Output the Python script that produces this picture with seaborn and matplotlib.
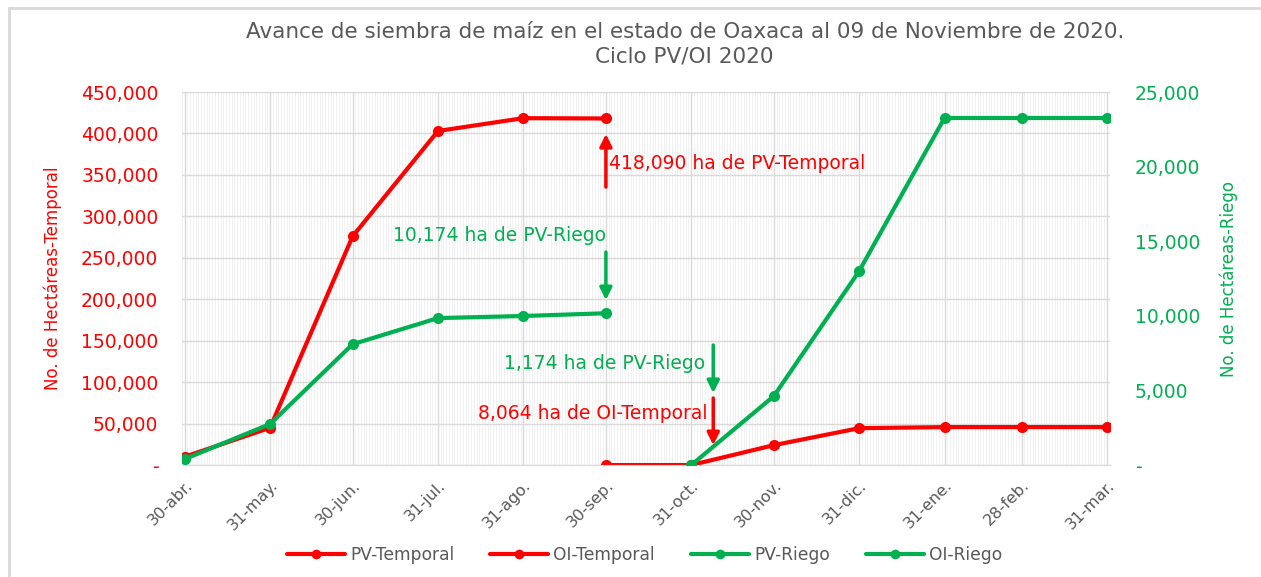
import pandas as pd
import numpy as np
import matplotlib
matplotlib.use("Agg")
import matplotlib.pyplot as plt
import matplotlib.dates as mdates
from matplotlib.ticker import FuncFormatter, MultipleLocator
from matplotlib.lines import Line2D
import seaborn as sns

# --- data ---
fechas = pd.to_datetime([
    "2020-04-30", "2020-05-31", "2020-06-30", "2020-07-31", "2020-08-31", "2020-09-30",
    "2020-10-31", "2020-11-30", "2020-12-31", "2021-01-31", "2021-02-28", "2021-03-31",
])
etiquetas = ["30-abr.", "31-may.", "30-jun.", "31-jul.", "31-ago.", "30-sep.",
             "31-oct.", "30-nov.", "31-dic.", "31-ene.", "28-feb.", "31-mar."]

pv_temporal = [10000, 45000, 276000, 403000, 418500, 418090,
               None, None, None, None, None, None]
oi_temporal = [None, None, None, None, None, 0,
               0, 24000, 44500, 45800, 45800, 45800]
pv_riego = [400, 2750, 8100, 9850, 9990, 10174,
            None, None, None, None, None, None]
oi_riego = [None, None, None, None, None, None,
            0, 4620, 13000, 23260, 23260, 23260]

ROJO = "#FF0000"
VERDE = "#00B050"
GRIS = "#595959"

df = pd.DataFrame({
    "fecha": fechas,
    "PV-Temporal": pv_temporal,
    "OI-Temporal": oi_temporal,
    "PV-Riego": pv_riego,
    "OI-Riego": oi_riego,
})

sns.set_style("white")
plt.rcParams["font.family"] = ["DejaVu Sans"]

fig = plt.figure(figsize=(12.61, 5.77), dpi=100)
ax = fig.add_axes([0.1443, 0.194, 0.7357, 0.6465])
ax2 = ax.twinx()

line_kw = dict(marker="o", markersize=8, linewidth=3, markeredgewidth=0)

for serie in ["PV-Temporal", "OI-Temporal"]:
    d = df.dropna(subset=[serie])
    sns.lineplot(data=d, x="fecha", y=serie, ax=ax, color=ROJO, **line_kw)
for serie in ["PV-Riego", "OI-Riego"]:
    d = df.dropna(subset=[serie])
    sns.lineplot(data=d, x="fecha", y=serie, ax=ax2, color=VERDE, **line_kw)

# axes limits / scales
ax.set_xlim(pd.Timestamp("2020-04-29"), pd.Timestamp("2021-04-01"))
ax.set_ylim(0, 450000)
ax2.set_ylim(0, 25000)

def miles(v, pos):
    return "-" if abs(v) < 1e-9 else f"{v:,.0f}"

ax.yaxis.set_major_locator(MultipleLocator(50000))
ax.yaxis.set_major_formatter(FuncFormatter(miles))
ax2.yaxis.set_major_locator(MultipleLocator(5000))
ax2.yaxis.set_major_formatter(FuncFormatter(miles))

ax.set_xticks(fechas)
ax.set_xticklabels(etiquetas, rotation=45, ha="right", rotation_mode="anchor",
                   color=GRIS, fontsize=11.5)
ax.xaxis.set_minor_locator(mdates.DayLocator())

ax.tick_params(axis="y", colors=ROJO, labelsize=13.5, length=0, pad=17)
ax2.tick_params(axis="y", colors=VERDE, labelsize=13.5, length=0, pad=18)
ax.tick_params(axis="x", length=5, color="#d9d9d9", pad=4)
ax.tick_params(axis="x", which="minor", length=0)

ax.set_xlabel("")
ax.set_ylabel("No. de Hectáreas-Temporal", color=ROJO, fontsize=12, labelpad=14)
ax2.set_ylabel("No. de Hectáreas-Riego", color=VERDE, fontsize=12, labelpad=14)

# grid
ax.grid(True, which="major", axis="y", color="#d9d9d9", linewidth=1)
ax.grid(True, which="major", axis="x", color="#d9d9d9", linewidth=1)
ax.grid(True, which="minor", axis="x", color="#efefef", linewidth=0.6)
ax.set_axisbelow(True)
for a in (ax, ax2):
    for s in a.spines.values():
        s.set_visible(False)
ax.spines["bottom"].set_visible(True)
ax.spines["bottom"].set_color("#d9d9d9")

# annotations (left-axis units)
def flecha(x, y0, y1, color):
    ax.annotate("", xy=(pd.Timestamp(x), y1), xytext=(pd.Timestamp(x), y0),
                arrowprops=dict(arrowstyle="-|>", color=color, lw=2.5,
                                mutation_scale=18, shrinkA=0, shrinkB=0),
                zorder=5)

fs_nota = 13.5
ax.text(pd.Timestamp("2020-10-01"), 364300, "418,090 ha de PV-Temporal",
        color=ROJO, fontsize=fs_nota, ha="left", va="center")
flecha("2020-09-30", 335400, 399300, ROJO)
ax.text(pd.Timestamp("2020-09-30"), 277500, "10,174 ha de PV-Riego",
        color=VERDE, fontsize=fs_nota, ha="right", va="center")
flecha("2020-09-30", 257000, 199000, VERDE)
ax.text(pd.Timestamp("2020-11-05"), 123000, "1,174 ha de PV-Riego",
        color=VERDE, fontsize=fs_nota, ha="right", va="center")
flecha("2020-11-08", 144800, 86900, VERDE)
ax.text(pd.Timestamp("2020-11-06"), 62700, "8,064 ha de OI-Temporal",
        color=ROJO, fontsize=fs_nota, ha="right", va="center")
flecha("2020-11-08", 80800, 24100, ROJO)

# title
fig.text(0.543, 1 - 32 / 577, "Avance de siembra de maíz en el estado de Oaxaca al 09 de Noviembre de 2020.",
         ha="center", va="center", color=GRIS, fontsize=15.5)
fig.text(0.543, 1 - 57 / 577, "Ciclo PV/OI 2020", ha="center", va="center",
         color=GRIS, fontsize=15.5)

# legend
handles = [
    Line2D([], [], color=ROJO, **line_kw),
    Line2D([], [], color=ROJO, **line_kw),
    Line2D([], [], color=VERDE, **line_kw),
    Line2D([], [], color=VERDE, **line_kw),
]
for h in handles:
    h.set_markersize(7)
fig.legend(handles, ["PV-Temporal", "OI-Temporal", "PV-Riego", "OI-Riego"],
           loc="center", bbox_to_anchor=(0.511, 1 - 555 / 577), ncol=4, frameon=False,
           fontsize=12.3, labelcolor=GRIS, handlelength=3.4, columnspacing=2.1,
           handletextpad=0.3)

# outer frame (left and top edges visible)
fig.add_artist(Line2D([9 / 1261, 9 / 1261], [0, 1 - 8 / 577], color="#d9d9d9", lw=2,
                      transform=fig.transFigure))
fig.add_artist(Line2D([9 / 1261, 1], [1 - 8 / 577, 1 - 8 / 577], color="#d9d9d9", lw=2,
                      transform=fig.transFigure))

fig.savefig("out.png", dpi=100)
